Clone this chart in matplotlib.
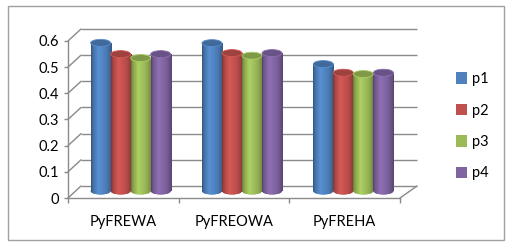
import numpy as np
import matplotlib
matplotlib.use("Agg")
import matplotlib.pyplot as plt
from matplotlib.patches import Rectangle, Ellipse, Patch, ConnectionPatch
from matplotlib.colors import to_rgb

categories = ["PyFREWA", "PyFREOWA", "PyFREHA"]
series_names = ["p1", "p2", "p3", "p4"]
p1 = [0.566, 0.565, 0.485]
p2 = [0.523, 0.527, 0.452]
p3 = [0.508, 0.517, 0.447]
p4 = [0.523, 0.527, 0.452]
yticks = [0, 0.1, 0.2, 0.3, 0.4, 0.5, 0.6]
ytick_labels = ["0", "0.1", "0.2", "0.3", "0.4", "0.5", "0.6"]

colors = ["#4F81BD", "#C0504D", "#9BBB59", "#8064A2"]
series = [p1, p2, p3, p4]

W, H = 515, 252
plt.rcParams['font.family'] = ['Lato', 'DejaVu Sans']
fig = plt.figure(figsize=(W / 100, H / 100), dpi=100)

def rect(l, r, t, b):
    return [l / W, 1 - b / H, (r - l) / W, (b - t) / H]

K = 261.7  # px per unit
grid_c = "#8a8a8a"
FS = 10.5

# back wall
ax_back = fig.add_axes(rect(81, 417, 186 - 0.6 * K, 186))
ax_back.set_xlim(-0.5, 2.5)
ax_back.set_ylim(0, 0.6)
ax_back.axis("off")
for v in yticks:
    ax_back.plot([-0.5, 2.5], [v, v], color=grid_c, lw=1.0, clip_on=False, solid_capstyle="butt")

# front plane
ax = fig.add_axes(rect(68, 400, 198 - 0.6 * K, 198))
ax.patch.set_alpha(0)
ax.set_xlim(-0.5, 2.5)
ax.set_ylim(0, 0.6)
for s in ["top", "right"]:
    ax.spines[s].set_visible(False)
for s in ["left", "bottom"]:
    ax.spines[s].set_color(grid_c)
    ax.spines[s].set_linewidth(1.0)
ax.set_yticks(yticks)
ax.set_yticklabels(ytick_labels, fontsize=FS)
ax.tick_params(axis="y", length=3, width=1.0, color=grid_c, pad=3.5)
ax.set_xticks([-0.5, 0.5, 1.5, 2.5])
ax.set_xticklabels([])
ax.tick_params(axis="x", which="major", length=3.6, width=1.0, color=grid_c)
ax.set_xticks([0, 1, 2], minor=True)
ax.set_xticklabels(categories, minor=True, fontsize=FS)
ax.tick_params(axis="x", which="minor", length=0, pad=12)

# side wall diagonals + floor edge
for v in yticks:
    cp = ConnectionPatch(xyA=(-0.5, v), coordsA=ax.transData, xyB=(-0.5, v), coordsB=ax_back.transData,
                         color=grid_c, lw=1.0)
    fig.add_artist(cp)
cp = ConnectionPatch(xyA=(2.5, 0), coordsA=ax.transData, xyB=(2.5, 0), coordsB=ax_back.transData,
                     color=grid_c, lw=1.0)
fig.add_artist(cp)

# bars (mid-depth)
ax_b = fig.add_axes(rect(75, 409, 191 - 0.65 * K, 191 + 0.05 * K))
ax_b.set_xlim(-0.5, 2.5)
ax_b.set_ylim(-0.05, 0.65)
ax_b.axis("off")

bw = 0.18
offs = [-0.27, -0.09, 0.09, 0.27]
eh = 7 / K
x = np.arange(len(categories))

tpos = [0, 0.08, 0.35, 0.75, 1]
fac = [0.65, 0.85, 1.12, 0.95, 0.7]
tt = np.linspace(0, 1, 64)
ff = np.interp(tt, tpos, fac)

def grad(c):
    c = np.array(to_rgb(c))
    img = np.clip(c[None, :] * ff[:, None], 0, 1)
    return img[None, :, :]

for i, (vals, c) in enumerate(zip(series, colors)):
    bars = ax_b.bar(x + offs[i], vals, bw, color=c, zorder=2)
    g = grad(c)
    for b, v in zip(bars, vals):
        cx = b.get_x() + b.get_width() / 2
        x0, x1 = b.get_x(), b.get_x() + b.get_width()
        be = Ellipse((cx, 0), bw, eh, facecolor=c, edgecolor="none", zorder=1)
        ax_b.add_patch(be)
        im = ax_b.imshow(g, extent=(x0, x1, -eh, 0), aspect="auto", interpolation="bilinear", zorder=1.5)
        im.set_clip_path(be)
        im2 = ax_b.imshow(g, extent=(x0, x1, 0, v), aspect="auto", interpolation="bilinear", zorder=2.5)
        im2.set_clip_path(b)
        cc = np.array(to_rgb(c))
        te = Ellipse((cx, v), bw, eh, facecolor=np.clip(cc * 0.82, 0, 1),
                     edgecolor=np.clip(cc * 1.1, 0, 1), lw=0.6, zorder=3)
        ax_b.add_patch(te)
ax_b.set_xlim(-0.5, 2.5)
ax_b.set_ylim(-0.05, 0.65)

# legend
handles = [Patch(facecolor=c, edgecolor="none") for c in colors]
fig.legend(handles, series_names, loc="upper left", bbox_to_anchor=(456 / W, 1 - 72 / H),
           frameon=False, fontsize=FS, handlelength=0.78, handleheight=0.85,
           handletextpad=0.3, labelspacing=1.2, borderaxespad=0, borderpad=0)

# outer border
fig.add_artist(Rectangle((8 / W, 1 - 240 / H), (504 - 8) / W, (240 - 6) / H, transform=fig.transFigure,
                         fill=False, edgecolor="#a0a0a0", lw=1.0))

fig.savefig("out.png", dpi=100)
